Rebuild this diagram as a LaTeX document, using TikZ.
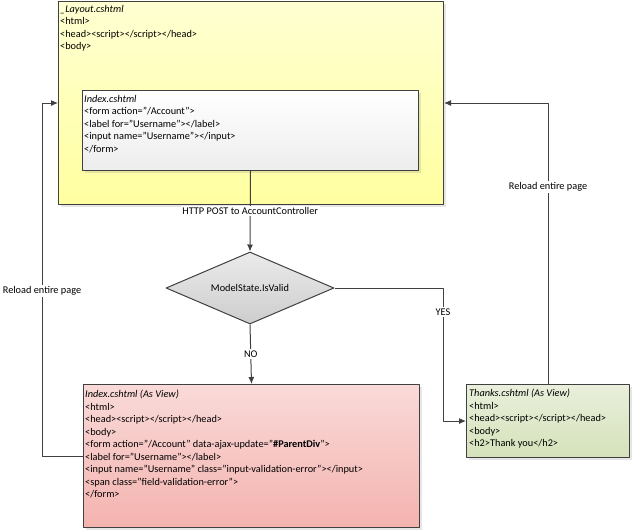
\documentclass[tikz,border=0pt]{standalone}
\usepackage{fontspec}
\setmainfont{Carlito}
\usetikzlibrary{shapes.geometric,shadows,arrows.meta}
\definecolor{edge}{HTML}{404040}
\definecolor{layoutTop}{HTML}{FFFFD2}
\definecolor{layoutBot}{HTML}{FFFFA0}
\definecolor{indexTop}{HTML}{FFFFFF}
\definecolor{indexBot}{HTML}{EDEDED}
\definecolor{failTop}{HTML}{F9DAD8}
\definecolor{failBot}{HTML}{F4B3AF}
\definecolor{okTop}{HTML}{E9EFDB}
\definecolor{okBot}{HTML}{D5E2BA}
\definecolor{diaTop}{HTML}{EBEBEB}
\definecolor{diaBot}{HTML}{CDCDCD}
\begin{document}
\begin{tikzpicture}[>={Latex[length=7pt,width=6pt]},line join=round,x=1pt,y=-1pt,font=\fontsize{10.3}{12.5}\selectfont,
		box/.style={draw=edge,line width=1pt,inner sep=0pt,anchor=north west,
			drop shadow={shadow xshift=2pt,shadow yshift=-2pt,opacity=0.2}},
		code/.style={anchor=north west,align=left,inner sep=0pt},
		tag/.style={fill=white,inner sep=1.5pt},
		link/.style={draw=edge,line width=1pt}]
		\useasboundingbox (0,0) rectangle (637,531);
		% pages
		\node[box,minimum width=385pt,minimum height=203pt,top color=layoutTop,bottom color=layoutBot] (layout) at (58,1) {};
		\node[code] (layouttext) at (60,5) {\textit{\_Layout.cshtml}\\<html>\\<head><script></script></head>\\<body>};
		\node[box,minimum width=336pt,minimum height=80pt,top color=indexTop,bottom color=indexBot] (index) at (82,90) {};
		\node[code] (indextext) at (84,95) {\textit{Index.cshtml}\\<form action=”/Account”>\\<label for=”Username”></label>\\<input name=”Username”></input>\\</form>};
		\node[box,minimum width=336pt,minimum height=143pt,top color=failTop,bottom color=failBot] (asview) at (83,384) {};
		\node[code] (asviewtext) at (85,390) {\textit{Index.cshtml (As View)}\\<html>\\<head><script></script></head>\\<body>\\<form action=”/Account” data-ajax-update=”\textbf{\#ParentDiv}”>\\<label for=”Username”></label>\\<input name=”Username” class="input-validation-error"></input>\\<span class="field-validation-error">\\</form>};
		\node[box,minimum width=163pt,minimum height=73pt,top color=okTop,bottom color=okBot] (thanks) at (466,384) {};
		\node[code] (thankstext) at (469,389) {\textit{Thanks.cshtml (As View)}\\<html>\\<head><script></script></head>\\<body>\\<h2>Thank you</h2>};
		% decision
		\node[diamond,draw=edge,line width=1pt,inner sep=0pt,aspect=2.33,minimum width=168pt,minimum height=72pt,
			top color=diaTop,bottom color=diaBot] (valid) at (250,288) {ModelState.IsValid};
		% connectors
		\draw[link,->] (index.south) -- node[tag] (post) {HTTP POST to AccountController} (valid.north);
		\draw[link,->] (valid.south) -- node[tag] (no) {NO} (asview.north);
		\draw[link,->] (valid.east) -| ([xshift=-23pt]thanks.west) -- (thanks.west);
		\node[tag] (yes) at (443,312) {YES};
		\draw[link,->] (asview.west) -| ([xshift=-16pt]layout.west) -- (layout.west);
		\node[tag] (reloadleft) at (42,291) {Reload entire page};
		\draw[link,->] (thanks.north) |- (layout.east);
		\node[tag] (reloadright) at (548,187) {Reload entire page};
\end{tikzpicture}
\end{document}
